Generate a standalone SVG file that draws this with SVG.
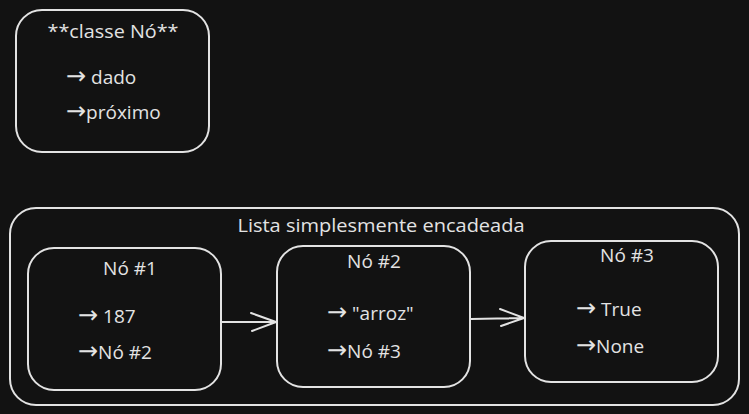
<svg xmlns="http://www.w3.org/2000/svg" width="749" height="414" viewBox="0 0 749 414">
<style>
.box{fill:none;stroke:#e3e3e3;stroke-width:2;stroke-linecap:round;stroke-linejoin:round}
.conn{fill:none;stroke:#e3e3e3;stroke-width:2;stroke-linecap:round;stroke-linejoin:round}
text{font-family:"Open Sans","Liberation Sans",sans-serif;font-size:19px;fill:#e3e3e3}
.c{text-anchor:middle}
.a{font-family:"DejaVu Sans",sans-serif;font-size:24px}
</style>
<rect width="749" height="414" fill="#121212"/>
<g id="classe-no">
<rect class="box" x="16" y="10" width="193" height="142" rx="26"/>
<text class="c" x="113" y="38" textLength="131" lengthAdjust="spacingAndGlyphs">**classe Nó**</text>
<text x="66" y="84"><tspan class="a">→</tspan>  dado</text>
<text x="66" y="119"><tspan class="a">→</tspan>próximo</text>
</g>
<g id="lista">
<rect class="box" x="10" y="208" width="729" height="197" rx="26"/>
<text class="c" x="381" y="232" textLength="287" lengthAdjust="spacingAndGlyphs">Lista simplesmente encadeada</text>
</g>
<g id="no1">
<rect class="box" x="28" y="248" width="193" height="142" rx="26"/>
<text class="c" x="130" y="275">Nó #1</text>
<text x="78" y="323"><tspan class="a">→</tspan>  187</text>
<text x="78" y="359"><tspan class="a">→</tspan>Nó #2</text>
</g>
<g id="no2">
<rect class="box" x="277" y="246" width="193" height="141" rx="26"/>
<text class="c" x="374" y="268">Nó #2</text>
<text x="327" y="320"><tspan class="a">→</tspan>  "arroz"</text>
<text x="327" y="358"><tspan class="a">→</tspan>Nó #3</text>
</g>
<g id="no3">
<rect class="box" x="525" y="241" width="193" height="141" rx="26"/>
<text class="c" x="627" y="262">Nó #3</text>
<text x="576" y="316"><tspan class="a">→</tspan>  True</text>
<text x="576" y="353"><tspan class="a">→</tspan>None</text>
</g>
<g id="connectors">
<path class="conn" d="M222 322 L276 322 M251 313 L276 322 L252 331"/>
<path class="conn" d="M471 319 L524 318 M500 309 L524 318 L501 326"/>
</g>
</svg>
